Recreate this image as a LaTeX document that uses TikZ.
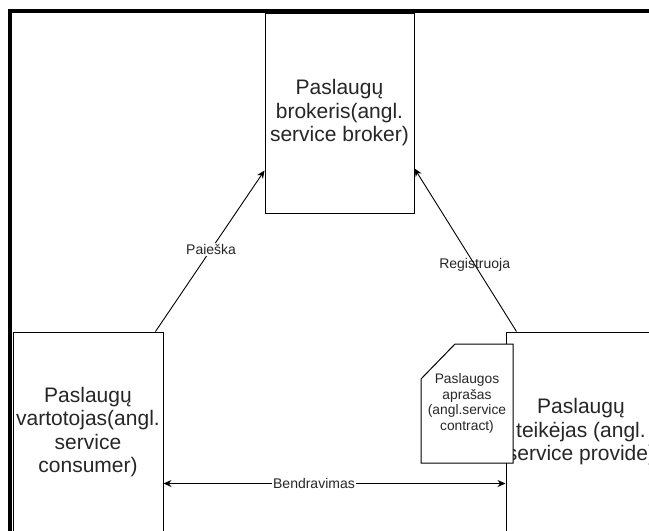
\documentclass[tikz,border=0pt]{standalone}
\usepackage{fontspec}
\setmainfont{Liberation Sans}
\usetikzlibrary{arrows.meta,calc}
\begin{document}
\begin{tikzpicture}[x=1pt,y=-1pt,
  box/.style={draw=black,line width=1pt,fill=white,minimum width=150pt,
    minimum height=200pt,inner sep=0pt,align=center,
    font=\fontsize{21}{23.5}\selectfont,text=black!85},
  doctext/.style={align=center,inner sep=0pt,
    font=\fontsize{13.8}{15.6}\selectfont,text=black!85},
  link/.style={draw=black,line width=0.9pt,-{Stealth[length=8pt,width=7pt]}},
  both/.style={draw=black,line width=0.9pt,
    {Stealth[length=8pt,width=7pt]}-{Stealth[length=8pt,width=7pt]}},
  lbl/.style={font=\fontsize{14}{16}\selectfont,text=black!85,inner sep=1pt}]
\useasboundingbox (0,0) rectangle (649,531);
\clip (0,0) rectangle (649,531);
\fill[white] (0,0) rectangle (649,531);

% outer frame (only top and left edges fall inside the page)
\draw[line width=4pt] (10,600) -- (10,11) -- (700,11);

% the three roles
\node[box,minimum width=149pt] (broker) at (339.5,113)
  {Paslaugų\\brokeris(angl.\\service broker)};
\node[box] (consumer) at (88,432)
  {Paslaugų\\vartotojas(angl.\\service\\consumer)};
\node[box] (provider) at (581,432)
  {Paslaugų\\teikėjas (angl.\\service provide)};

% service contract document with a cut corner
\coordinate (docNW) at (421,344);
\coordinate (docSE) at (513,463);
\draw[line width=1pt,fill=white]
  ($(docNW)+(0,35)$) -- ($(docNW)+(34,0)$) -- (docNW -| docSE)
  -- (docSE) -- (docSE -| docNW) -- cycle;
\node[doctext] (doc) at ($(docNW)!0.5!(docSE)$)
  {Paslaugos\\aprašas\\(angl.service\\contract)};

% connectors
\draw[link] ($(consumer.north east)+(-8,0)$) --
  node[lbl,fill=white,pos=0.51] {Paieška}
  ($(broker.south west)+(0,-43)$);
\draw[link] ($(provider.north west)+(11,0)$) --
  node[lbl,pos=0.41] {Registruoja}
  ($(broker.south east)+(0,-45)$);
\draw[both] ($(consumer.south east)+(0,-49)$) --
  node[lbl,fill=white,pos=0.44] {Bendravimas}
  ($(provider.south west)+(0,-49)$);
\end{tikzpicture}
\end{document}
